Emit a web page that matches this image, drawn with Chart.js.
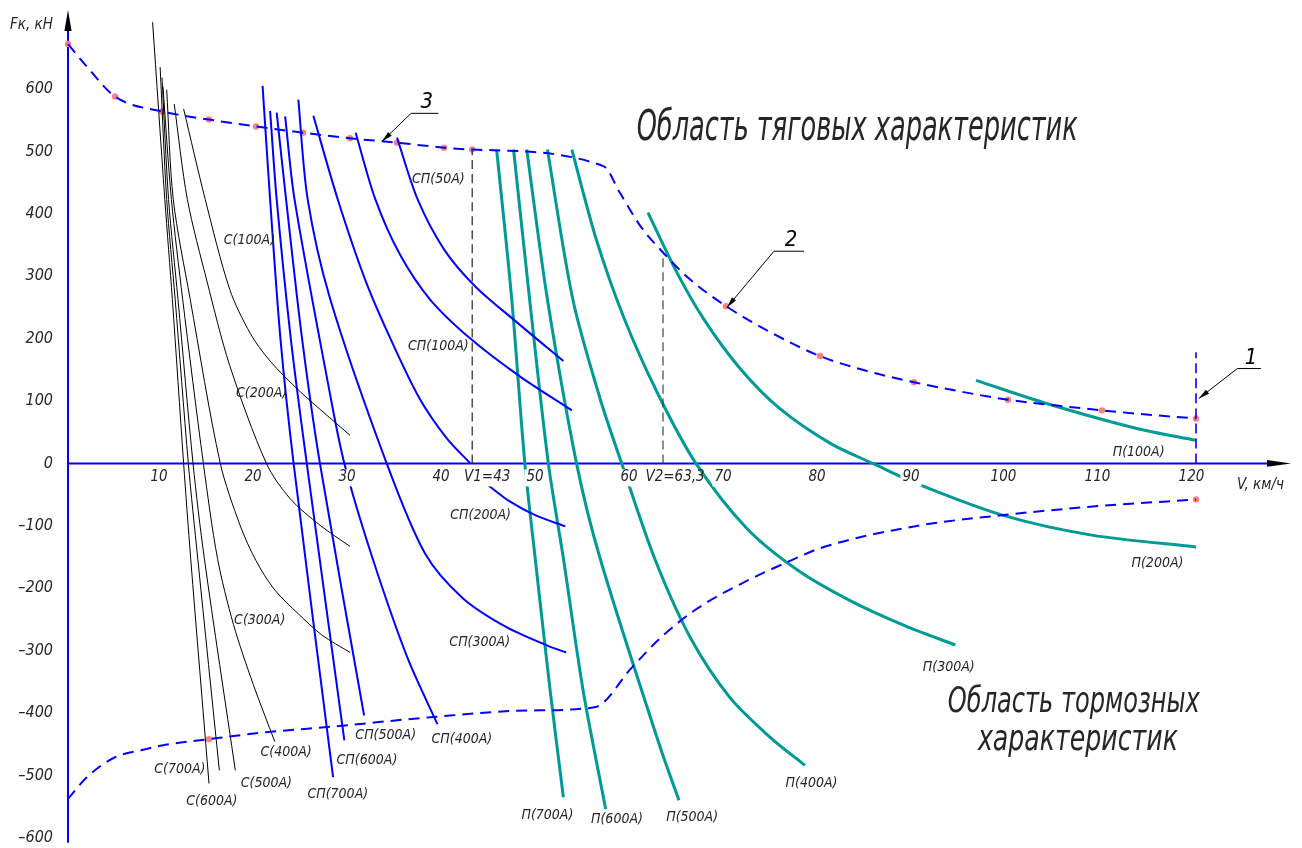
<!DOCTYPE html>
<html lang="ru">
<head>
<meta charset="utf-8">
<title>Тяговые и тормозные характеристики</title>
<script src="https://cdn.jsdelivr.net/npm/chart.js@4.4.1/dist/chart.umd.min.js"></script>
<style>
  html, body { margin: 0; padding: 0; background: #fff; }
  canvas { display: block; }
</style>
</head>
<body>
<canvas id="tractionChart" width="1302" height="848"></canvas>
<script>
// axis ticks: speed V, km/h and force Fk, kN
const speedTicks = [10, 20, 30, 40, 50, 60, 70, 80, 90, 100, 110, 120];
const forceTicks = [600, 500, 400, 300, 200, 100, 0, -100, -200, -300, -400, -500, -600];

// limiting curves [V, F]
const tractionLimit = [[0, 672], [2, 636], [5, 588], [10, 564], [15, 551], [20, 540], [25, 530], [30, 521],
  [35, 514], [40, 506], [43, 503], [57, 476], [58.7, 434], [61, 378], [63.3, 338], [66, 297], [70, 252],
  [75, 208], [80, 172], [85, 148], [90, 130], [95, 115], [100, 102], [105, 93], [110, 85], [115, 78], [120, 72]];
const tractionMarks = [[0, 672], [5, 588], [10, 564], [15, 551], [20, 540], [25, 530], [30, 521], [35, 514],
  [40, 506], [43, 503], [70, 252], [80, 172], [90, 130], [100, 102], [110, 85], [120, 72]];
const brakingLimit = [[0, -538], [2, -503], [5, -471], [8, -459], [10, -452], [15, -442], [21, -431], [28, -422],
  [38.5, -407], [49, -396], [56, -391], [60, -327], [63, -280], [67, -232], [72, -190], [77, -155], [80, -136],
  [90, -101], [100, -82], [110, -68], [120, -58]];
const brakingMarks = [[15, -442], [120, -58]];
const maxSpeedLine = [[120, 0], [120, 178]];
const v1Line = [[43, 0], [43, 503]];
const v2Line = [[63.3, 0], [63.3, 338]];

// С - series connection
const C100 = [[12.3, 568], [14.6, 423], [17.2, 279], [19.4, 208], [21.5, 164], [24.7, 115], [30, 45]];
const C200 = [[11.3, 576], [12.7, 423], [14.8, 291], [17.2, 157], [21.1, 0], [23.6, -56], [26.8, -99], [30, -133]];
const C300 = [[10.5, 599], [11.2, 423], [13.0, 263], [16.2, 0], [18.3, -99], [20, -156], [22, -203], [24.5, -241], [27, -275], [30, -303]];
const C400 = [[10.1, 604], [11.0, 423], [12.2, 263], [14.4, 0], [15.9, -152], [17.6, -258], [19.7, -354], [22.0, -446]];
const C500 = [[10.0, 618], [10.7, 423], [11.7, 263], [13.3, 0], [14.5, -152], [17.8, -492]];
const C600 = [[9.8, 635], [10.5, 423], [11.4, 263], [12.8, 0], [13.8, -152], [16.1, -492]];
const C700 = [[9.0, 707], [10.3, 423], [11.1, 263], [12.3, 0], [13.05, -152], [15.0, -513]];

// СП - series-parallel connection
const SP50 = [[35, 522], [37.2, 423], [40, 343], [43.3, 284], [47.6, 228], [52.7, 164]];
const SP100 = [[30.6, 530], [32.7, 423], [35.3, 335], [38.5, 263], [42.8, 200], [48.1, 139], [53.6, 85]];
const SP200 = [[26.1, 557], [28.7, 423], [31.6, 295], [34.3, 200], [37.4, 104], [40.3, 40], [42.8, 0], [43.8, null],
  [44.7, -35], [47, -61], [49.7, -83], [52.9, -101]];
const SP300 = [[24.5, 583], [25.5, 423], [27.9, 263], [33.9, 0], [38, -145], [42, -216], [46.7, -263], [51, -292], [53, -303]];
const SP400 = [[23.1, 556], [24.1, 423], [27.9, 109], [29.4, 0], [32.4, -152], [36.1, -311], [39.3, -418]];
const SP500 = [[22.2, 562], [23.2, 423], [24.9, 200], [26.8, 0], [31.5, -404]];
const SP600 = [[21.5, 565], [22.2, 423], [23.7, 200], [25.4, 0], [29.4, -444]];
const SP700 = [[20.7, 605], [21.5, 423], [22.6, 200], [24.0, 0], [28.2, -503]];

// П - parallel connection
const P100 = [[96.6, 133], [104.1, 96], [113.7, 56], [120, 37]];
const P200 = [[61.7, 402], [64.6, 311], [67.6, 232], [71.5, 152], [75.7, 88], [81.1, 32], [85.6, 0], [90.7, -35],
  [99.4, -83], [108.9, -115], [120, -134]];
const P300 = [[53.6, 503], [56.2, 359], [59.2, 231], [62.8, 110], [66.8, 0], [72.2, -104], [77.6, -171], [83.2, -220], [89, -260], [94.4, -291]];
const P400 = [[51, 503], [53.7, 263], [56.6, 104], [58.9, 0], [62.4, -152], [66.2, -279], [70.4, -375], [74.7, -439], [78.4, -484]];
const P500 = [[48.8, 503], [51, 263], [54.1, 0], [56.6, -152], [63, -455], [65, -540]];
const P600 = [[47.4, 503], [49.1, 264], [51.1, 0], [52.7, -152], [54.8, -364], [57.2, -554]];
const P700 = [[45.6, 503], [47.2, 264], [48.6, 0], [49.7, -152], [51.3, -365], [52.7, -535]];

const FONT = '"Liberation Sans Narrow", "DejaVu Sans Condensed", "Liberation Sans", sans-serif';
const BLUE = '#0000ff';
const TEAL = '#009a96';
const INK = '#262626';

const toPoints = arr => arr.map(([x, y]) => ({ x, y }));

function curve(arr, color, width, dash, smooth) {
  return {
    data: toPoints(arr),
    showLine: true,
    borderColor: color,
    borderWidth: width,
    borderDash: dash || [],
    pointRadius: 0,
    fill: false,
    spanGaps: false,
    tension: smooth === 'monotone' ? 0 : 0.3,
    cubicInterpolationMode: smooth === 'monotone' ? 'monotone' : 'default',
    clip: false
  };
}

function marks(arr) {
  return {
    data: toPoints(arr),
    showLine: false,
    pointRadius: 3.2,
    pointBackgroundColor: '#ff8080',
    pointBorderWidth: 0,
    clip: false
  };
}

// labels next to curves: text, V, F
const curveLabels = [
  ['С(100А)', 19.3, 358], ['С(200А)', 20.6, 112], ['С(300А)', 20.4, -251], ['С(400А)', 23.2, -463],
  ['С(500А)', 21.1, -513], ['С(600А)', 15.3, -541], ['С(700А)', 11.9, -490],
  ['СП(50А)', 39.4, 455], ['СП(100А)', 39.4, 187], ['СП(200А)', 43.9, -83], ['СП(300А)', 43.8, -287],
  ['СП(400А)', 41.9, -442], ['СП(500А)', 33.8, -436], ['СП(600А)', 31.8, -476], ['СП(700А)', 28.7, -530],
  ['П(100А)', 113.9, 18], ['П(200А)', 115.9, -161], ['П(300А)', 93.7, -327], ['П(400А)', 79.1, -513],
  ['П(500А)', 66.4, -567], ['П(600А)', 58.4, -570], ['П(700А)', 51, -564]
];

// numbered leaders: text, tip, knee, end
const leaders = [
  ['3', [33.4, 516], [36.5, 561], [39.4, 561]],
  ['2', [70.1, 250], [75.1, 340], [78.3, 340]],
  ['1', [120.3, 104], [124.4, 152], [126.9, 152]]
];

function arrowHead(ctx, x0, y0, x1, y1, len, half) {
  const a = Math.atan2(y1 - y0, x1 - x0);
  ctx.beginPath();
  ctx.moveTo(x1, y1);
  ctx.lineTo(x1 - len * Math.cos(a) + half * Math.sin(a), y1 - len * Math.sin(a) - half * Math.cos(a));
  ctx.lineTo(x1 - len * Math.cos(a) - half * Math.sin(a), y1 - len * Math.sin(a) + half * Math.cos(a));
  ctx.closePath();
  ctx.fill();
}

function fitText(ctx, text, x, y, size, width) {
  ctx.save();
  ctx.font = `italic ${size}px ${FONT}`;
  const w = ctx.measureText(text).width;
  ctx.translate(x, y);
  ctx.scale(width / w, 1);
  ctx.textAlign = 'left';
  ctx.textBaseline = 'alphabetic';
  ctx.fillText(text, 0, 0);
  ctx.restore();
}

const drawingPlugin = {
  id: 'drawing',
  beforeDatasetsDraw(chart) {
    const { ctx, scales: { x, y } } = chart;
    const x0 = x.getPixelForValue(0), y0 = y.getPixelForValue(0);
    ctx.save();
    ctx.strokeStyle = BLUE;
    ctx.lineWidth = 2;
    ctx.beginPath();
    ctx.moveTo(x0, y.getPixelForValue(-608));
    ctx.lineTo(x0, 28);
    ctx.moveTo(x0, y0);
    ctx.lineTo(1270, y0);
    ctx.stroke();
    ctx.restore();
  },
  afterDatasetsDraw(chart) {
    const { ctx, scales: { x, y } } = chart;
    const px = v => x.getPixelForValue(v), py = f => y.getPixelForValue(f);
    const x0 = px(0), y0 = py(0);
    ctx.save();

    // axis arrows
    ctx.fillStyle = '#000';
    arrowHead(ctx, x0, 40, x0, 10, 21, 3.6);
    arrowHead(ctx, 1250, y0, 1291, y0, 24, 3.4);

    ctx.fillStyle = INK;
    ctx.textBaseline = 'middle';

    // speed tick labels; the curves that run under them are cut out
    ctx.font = `italic 15px ${FONT}`;
    ctx.textAlign = 'center';
    const xLabels = speedTicks.map(v => [String(v), px(v) - String(v).length * 1.5, y0 + 14, true]);
    xLabels.push(['V1=43', px(43) + 15, y0 + 14, true]);
    xLabels.push(['V2=63,3', px(63.3) + 12, y0 + 14, false]);
    xLabels.forEach(([t, lx, ly, cut]) => {
      const w = ctx.measureText(t).width;
      if (cut) {
        ctx.fillStyle = '#fff';
        ctx.fillRect(lx - w / 2 - 2, ly - 8, w + 4, 17);
      }
      ctx.fillStyle = INK;
      ctx.fillText(t, lx, ly);
    });

    // force tick labels
    ctx.font = `italic 16px ${FONT}`;
    ctx.textAlign = 'right';
    forceTicks.forEach(f => {
      ctx.fillText(f < 0 ? '\u2013' + Math.abs(f) : String(f), 53, py(f));
    });

    // axis titles
    ctx.font = `italic 15px ${FONT}`;
    ctx.textAlign = 'left';
    ctx.fillText('Fк, кН', 10, 25);
    ctx.fillText('V, км/ч', 1237, y0 + 22);

    // curve labels
    ctx.font = `italic 14px ${FONT}`;
    ctx.textAlign = 'center';
    curveLabels.forEach(([t, v, f]) => ctx.fillText(t, px(v), py(f)));

    // numbered leaders
    ctx.strokeStyle = '#000';
    ctx.fillStyle = '#000';
    ctx.lineWidth = 1;
    leaders.forEach(([t, tip, knee, end]) => {
      ctx.beginPath();
      ctx.moveTo(px(end[0]), py(end[1]));
      ctx.lineTo(px(knee[0]), py(knee[1]));
      ctx.lineTo(px(tip[0]), py(tip[1]));
      ctx.stroke();
      arrowHead(ctx, px(knee[0]), py(knee[1]), px(tip[0]), py(tip[1]), 11, 2.6);
      ctx.font = `italic 22px ${FONT}`;
      ctx.textAlign = 'center';
      ctx.textBaseline = 'alphabetic';
      ctx.fillText(t, (px(knee[0]) + px(end[0])) / 2 + 2, py(knee[1]) - 5);
    });

    // region captions
    ctx.fillStyle = INK;
    fitText(ctx, 'Область тяговых характеристик', px(60.5), py(519), 42, 441);
    fitText(ctx, 'Область тормозных', px(93.6), py(-399), 36, 252);
    fitText(ctx, 'характеристик', px(96.8), py(-460), 36, 200);
    ctx.restore();
  }
};

const datasets = [
  curve(tractionLimit, BLUE, 2, [11, 7], 'monotone'),
  curve(brakingLimit, BLUE, 2, [11, 7], 'monotone'),
  curve(maxSpeedLine, BLUE, 1.6, [10, 5]),
  curve(v1Line, '#222', 1.2, [9, 5]),
  curve(v2Line, '#444', 1.2, [9, 5]),
  ...[C100, C200, C300, C400, C500, C600, C700].map(d => curve(d, '#000', 1)),
  ...[SP50, SP100, SP200, SP300, SP400, SP500, SP600, SP700].map(d => curve(d, BLUE, 2)),
  ...[P100, P200, P300, P400, P500, P600, P700].map(d => curve(d, TEAL, 3)),
  marks(tractionMarks),
  marks(brakingMarks)
];

new Chart(document.getElementById('tractionChart'), {
  type: 'scatter',
  data: { datasets },
  options: {
    responsive: false,
    animation: false,
    devicePixelRatio: 1,
    layout: { padding: { left: 68, right: 12, top: 11, bottom: 1 } },
    scales: {
      x: { type: 'linear', min: 0, max: 130, display: false },
      y: { type: 'linear', min: -610, max: 725, display: false }
    },
    plugins: { legend: { display: false }, tooltip: { enabled: false } }
  },
  plugins: [drawingPlugin]
});
</script>
</body>
</html>
